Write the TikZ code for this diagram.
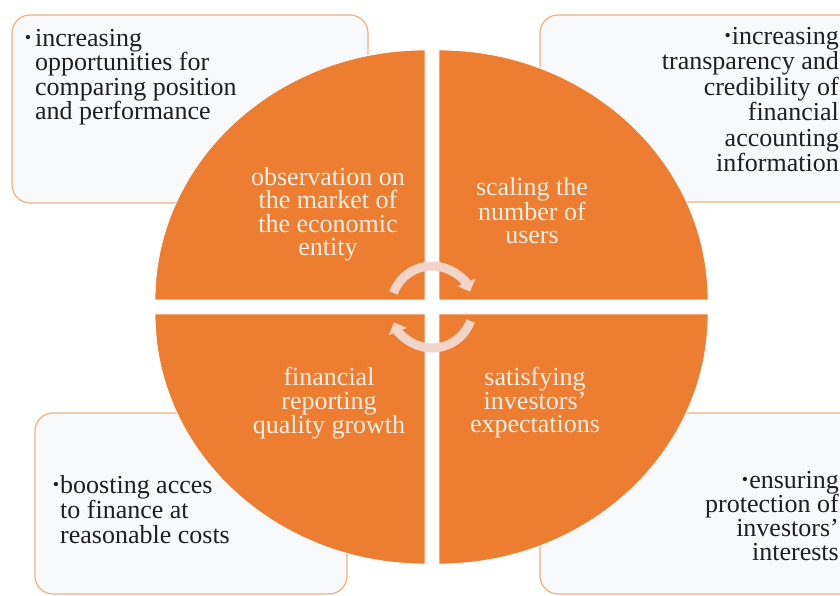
\documentclass[tikz,border=0pt]{standalone}
\usepackage{fontspec}
\setmainfont{Liberation Serif}
\usetikzlibrary{arrows.meta}
\definecolor{accent}{RGB}{237,125,49}
\definecolor{boxline}{RGB}{236,176,134}
\definecolor{boxfill}{RGB}{248,249,251}
\definecolor{cyclecol}{RGB}{242,212,201}
\definecolor{quadtext}{RGB}{253,240,230}
\newcommand{\dotmark}{\raisebox{3pt}{\fontsize{18}{18}\selectfont •}\hspace{1pt}}

\begin{document}
\begin{tikzpicture}[x=1pt,y=1pt,
    infobox/.style={draw=boxline, line width=1.2pt, fill=boxfill, rounded corners=18pt},
    quarter/.style={fill=accent, draw=white, line width=0.8pt},
    quadlabel/.style={text=quadtext, align=center, inner sep=0pt, anchor=north, font=\fontsize{26}{23.5}\selectfont},
    boxlabel/.style={text=black!88, inner sep=0pt, font=\fontsize{26}{#1}\selectfont},
    cyclearrow/.style={draw=cyclecol, line width=9pt, -{Triangle[width=19pt,length=10pt]}}]
  \useasboundingbox (0,0) rectangle (840,596);
  \clip (0,0) rectangle (840,596);
  % side boxes
  \draw[infobox] (12,393) rectangle (368,581);
  \draw[infobox] (540,394) rectangle (870,581);
  \draw[infobox] (35,2) rectangle (347,183);
  \draw[infobox] (540,2) rectangle (870,183);
  % four quarters
  \coordinate (c) at (432,289);
  \draw[quarter] (425,296) -- ++(-270,0) arc[start angle=180, end angle=90, x radius=270, y radius=250] -- cycle;
  \draw[quarter] (439,296) -- ++(0,250) arc[start angle=90, end angle=0, x radius=269, y radius=250] -- cycle;
  \draw[quarter] (439,282) -- ++(269,0) arc[start angle=0, end angle=-90, x radius=269, y radius=250] -- cycle;
  \draw[quarter] (425,282) -- ++(0,-250) arc[start angle=270, end angle=180, x radius=270, y radius=250] -- cycle;
  % cycle arrows
  \draw[cyclearrow] ([shift={(160:41)}]c) arc[start angle=160, end angle=22, radius=41];
  \draw[cyclearrow] ([shift={(-20:41)}]c) arc[start angle=-20, end angle=-158, radius=41];
  % quarter labels
  \node[quadlabel] (observ) at (328,429) {observation on\\the market of\\the economic\\entity};
  \node[quadlabel] (scaling) at (532,419) {scaling the\\number of\\users};
  \node[quadlabel] (reporting) at (329,229) {financial\\reporting\\quality growth};
  \node[quadlabel] (investors) at (535,229) {satisfying\\investors'\\expectations};
  % box labels
  \node[boxlabel=24.5, align=left, anchor=north west] (compare) at (35,567) {\llap{\dotmark\hspace{3pt}}increasing\\opportunities for\\comparing position\\and performance};
  \node[boxlabel=25.5, align=right, anchor=north east] (transparency) at (839,569) {\dotmark increasing\\transparency and\\credibility of\\financial\\accounting\\information};
  \node[boxlabel=25, align=left, anchor=north west] (finance) at (60,121) {\llap{\dotmark}boosting acces\\to finance at\\reasonable costs};
  \node[boxlabel=24, align=right, anchor=north east] (protection) at (839,125) {\dotmark ensuring\\protection of\\investors'\\interests};
\end{tikzpicture}
\end{document}
